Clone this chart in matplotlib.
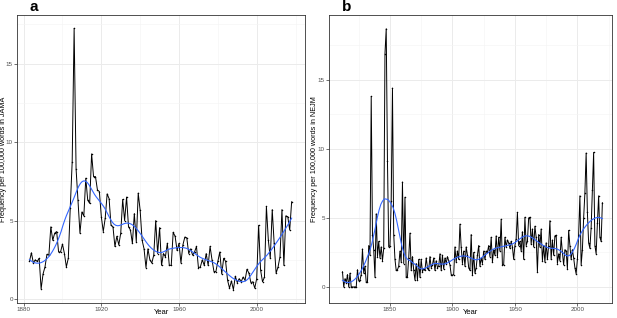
import numpy as np
import matplotlib
matplotlib.use("Agg")
import matplotlib.pyplot as plt
from matplotlib.ticker import MultipleLocator

plt.rcParams["font.family"] = ["Liberation Sans", "DejaVu Sans"]

# Panel a: JAMA, yearly frequency per 100,000 words (1883-2018)
jama_start = 1883
jama_freq = [
    2.4, 2.95, 2.3, 2.5, 2.4, 2.6, 0.65, 1.6, 2.05,
    2.85, 2.8, 4.6, 3.75, 4.2, 4.3, 3.0, 3.0, 3.5, 2.9,
    2.05, 2.6, 5.8, 8.75, 17.25, 8.3, 6.3, 4.2, 5.55, 5.3,
    7.7, 6.3, 6.1, 9.25, 7.8, 7.8, 6.95, 6.85, 5.25, 4.3,
    5.15, 6.7, 6.4, 4.7, 4.6, 3.35, 4.0, 3.45, 4.2, 6.35,
    5.0, 6.5, 4.6, 4.4, 3.55, 5.45, 3.65, 6.75, 5.65, 3.75,
    3.2, 2.0, 3.2, 2.5, 2.3, 2.8, 5.0, 2.9, 4.55, 2.15,
    2.9, 2.7, 3.55, 2.15, 2.15, 4.25, 4.0, 3.1, 3.55, 2.3,
    3.45, 3.95, 3.9, 2.9, 3.2, 2.8, 3.0, 3.35, 2.0, 2.05,
    2.5, 2.15, 2.9, 2.15, 3.35, 2.5, 1.75, 1.75, 2.4, 3.0,
    1.6, 2.6, 2.4, 1.2, 0.7, 1.15, 0.6, 1.45, 1.05, 1.3,
    1.1, 1.4, 1.2, 1.9, 1.65, 1.05, 1.1, 0.7, 1.3, 4.7,
    1.85, 1.1, 1.4, 5.9, 3.75, 2.6, 5.7, 3.55, 1.65, 2.05,
    2.7, 5.7, 2.15, 5.3, 5.25, 4.4, 6.2,
]

# Panel b: NEJM, yearly frequency per 100,000 words (1812-2020)
nejm_start = 1812
nejm_freq = [
    1.1, 0.0, 0.6, 0.3, 0.9, 0.0, 1.0, 0.0, 0.0, 0.0,
    0.0, 0.0, 1.25, 0.45, 0.5, 0.9, 2.75, 1.0, 1.5, 0.35,
    0.35, 3.0, 2.3, 13.8, 3.8, 2.7, 0.7, 5.3, 2.2, 3.3,
    2.1, 2.9, 1.9, 2.8, 16.9, 18.7, 9.1, 2.9, 3.0, 6.2,
    14.4, 3.8, 2.0, 1.2, 1.25, 1.5, 2.6, 1.8, 7.6, 1.7,
    6.5, 0.7, 0.75, 2.1, 3.9, 1.2, 2.2, 1.2, 0.5, 1.7,
    0.5, 2.0, 0.7, 2.0, 1.1, 1.3, 1.2, 2.1, 1.4, 1.2,
    2.2, 1.4, 1.6, 2.1, 1.2, 1.9, 1.4, 1.5, 2.4, 1.2,
    2.3, 1.3, 2.1, 1.7, 2.2, 1.9, 1.6, 0.9, 0.85,
    0.9, 2.9, 1.8, 2.6, 2.0, 4.55, 2.9, 1.7, 2.6, 1.5,
    2.9, 2.3, 1.4, 1.2, 3.8, 0.85, 2.5, 1.0, 1.4, 2.3,
    3.0, 1.5, 2.1, 1.7, 2.6, 2.0, 2.6, 2.5, 3.0, 2.2,
    3.6, 1.8, 2.7, 2.3, 3.7, 2.2, 3.6, 2.6, 4.9, 1.6,
    1.6, 3.6, 2.9, 3.4, 3.2, 2.8, 3.3, 2.9, 2.0, 3.0,
    3.5, 5.4, 3.0, 3.3, 2.6, 4.0, 2.0, 5.05, 3.0, 3.3,
    5.0, 5.05, 3.1, 4.2, 2.9, 4.4, 3.6, 1.1, 3.8, 2.9,
    4.2, 1.9, 3.0, 1.8, 3.2, 2.0, 3.0, 4.8, 2.0, 3.4,
    2.3, 3.7, 3.75, 1.7, 2.4, 1.9, 3.6, 2.5, 1.6, 2.7,
    2.6, 1.3, 4.1, 3.0, 2.0, 2.7, 2.1, 1.4, 0.95, 2.0,
    3.8, 6.6, 1.6, 2.7, 5.0, 6.8, 9.7, 5.4, 3.2, 2.8,
    4.3, 7.0, 9.75, 3.0, 2.4, 4.6, 6.6, 3.6, 3.3, 6.1,
]


def loess(x, y, span, n_out=150):
    # local quadratic fit with tricube weights (like geom_smooth's loess)
    x = np.asarray(x, float)
    y = np.asarray(y, float)
    k = int(np.ceil(span * len(x)))
    grid = np.linspace(x.min(), x.max(), n_out)
    fit = []
    for g in grid:
        d = np.abs(x - g)
        h = np.sort(d)[k - 1]
        w = np.clip(1 - (d / h) ** 3, 0, None) ** 3
        X = np.vstack([np.ones_like(x), x - g, (x - g) ** 2]).T
        W = np.sqrt(w)
        beta = np.linalg.lstsq(X * W[:, None], y * W, rcond=None)[0]
        fit.append(beta[0])
    return grid, np.array(fit)


fig = plt.figure(figsize=(6.17, 3.18), dpi=100)

panels = [
    ("a", jama_start, jama_freq, "Frequency per 100,000 words in JAMA",
     [0.0276, 0.0472, 0.4668, 0.9057], (1876.6, 2024.9), (-0.25, 18.1), 40, 0.25, -0.047),
    ("b", nejm_start, nejm_freq, "Frequency per 100,000 words in NEJM",
     [0.5332, 0.0472, 0.4587, 0.9057], (1801.2, 2027.7), (-1.16, 19.7), 50, 0.20, -0.05),
]

for tag, start, freq, ylab, rect, xlim, ylim, xstep, span, ylab_x in panels:
    ax = fig.add_axes(rect)
    years = np.arange(start, start + len(freq))
    ax.plot(years, freq, color="black", lw=0.7, zorder=3)
    ax.scatter(years, freq, s=1.2, color="black", zorder=4, linewidths=0)
    sx, sy = loess(years, freq, span)
    ax.plot(sx, sy, color="#3366FF", lw=0.8, zorder=5)

    ax.set_xlim(*xlim)
    ax.set_ylim(*ylim)
    ax.xaxis.set_major_locator(MultipleLocator(xstep))
    ax.xaxis.set_minor_locator(MultipleLocator(xstep / 2))
    ax.yaxis.set_major_locator(MultipleLocator(5))
    ax.yaxis.set_minor_locator(MultipleLocator(2.5))
    ax.grid(which="major", color="#EBEBEB", lw=0.7)
    ax.grid(which="minor", color="#F4F4F4", lw=0.4)
    ax.set_axisbelow(True)
    ax.tick_params(which="major", length=2, width=0.5, color="#333333",
                   labelsize=4.5, labelcolor="#4D4D4D", pad=1)
    ax.tick_params(which="minor", length=0)
    for s in ax.spines.values():
        s.set_color("#333333")
        s.set_linewidth(0.6)
    ax.set_xlabel("Year", fontsize=5.5)
    ax.xaxis.set_label_coords(0.5, -0.032)
    ax.xaxis.label.set_va("center")
    ax.set_ylabel(ylab, fontsize=5.2)
    ax.yaxis.set_label_coords(ylab_x, 0.5)
    ax.yaxis.label.set_va("center")
    ax.text(0.045, 1.005, tag, transform=ax.transAxes,
            fontsize=11, fontweight="bold", va="bottom", ha="left")

fig.savefig("out.png", dpi=100)
